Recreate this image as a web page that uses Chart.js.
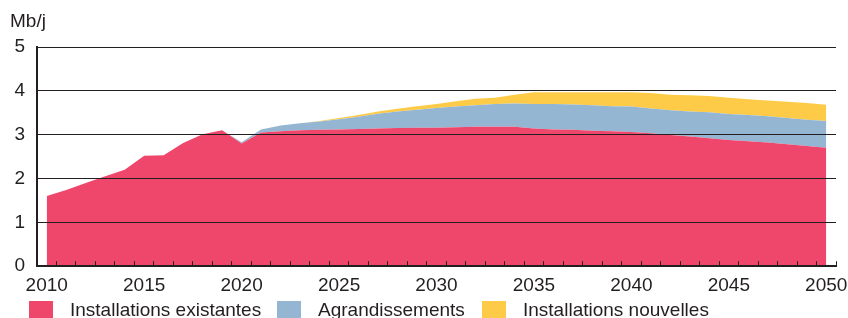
<!DOCTYPE html>
<html>
<head>
<meta charset="utf-8">
<script src="https://cdn.jsdelivr.net/npm/chart.js@4.4.1/dist/chart.umd.min.js"></script>
<style>
  html, body { margin: 0; padding: 0; background: #fff; }
  #wrap { position: relative; width: 848px; height: 318px; }
</style>
</head>
<body>
<div id="wrap"><canvas id="c" width="848" height="318"></canvas></div>
<script>
const years = [];
for (let y = 2010; y <= 2050; y++) years.push(String(y));

const yTicks = [0, 1, 2, 3, 4, 5];
const unitLabel = 'Mb/j';

const seriesNames = ['Installations existantes', 'Agrandissements', 'Installations nouvelles'];
const seriesColors = ['#EE476B', '#94B6D2', '#FECB48'];

const existing = [1.60,1.74,1.90,2.05,2.20,2.52,2.53,2.81,3.01,3.10,
                  2.80,3.05,3.08,3.10,3.11,3.12,3.13,3.14,3.15,3.16,
                  3.16,3.17,3.18,3.18,3.18,3.14,3.12,3.11,3.09,3.08,
                  3.06,3.03,2.99,2.96,2.92,2.88,2.85,2.82,2.78,2.74,2.70];
const expansions = [0,0,0,0,0,0,0,0,0,0,
                    0.03,0.07,0.13,0.16,0.19,0.23,0.28,0.34,0.38,0.41,
                    0.45,0.47,0.49,0.52,0.53,0.56,0.58,0.58,0.58,0.57,
                    0.58,0.57,0.57,0.57,0.59,0.59,0.60,0.60,0.60,0.60,0.61];
const newInstall = [0,0,0,0,0,0,0,0,0,0,
                    0,0,0,0,0.01,0.03,0.04,0.05,0.06,0.08,
                    0.09,0.12,0.15,0.14,0.20,0.27,0.27,0.28,0.30,0.32,
                    0.33,0.35,0.35,0.37,0.37,0.37,0.36,0.36,0.37,0.38,0.37];

const FONT = "'Liberation Sans', Arial, Helvetica, sans-serif";
const TEXT = '#231f20';
const FS = 19;

const extras = {
  id: 'extras',
  afterDraw(chart) {
    const ctx = chart.ctx;
    ctx.save();
    ctx.font = FS + 'px ' + FONT;
    ctx.textBaseline = 'alphabetic';
    ctx.textAlign = 'left';
    ctx.fillStyle = TEXT;
    ctx.fillText(unitLabel, 10, 27);
    const starts = [29, 277, 482];
    chart.data.datasets.forEach((ds, i) => {
      const x = starts[i];
      ctx.fillStyle = ds.backgroundColor;
      ctx.fillRect(x, 301, 24, 17);
      ctx.fillStyle = TEXT;
      ctx.fillText(ds.label, x + 41, 316);
    });
    ctx.restore();
  }
};

const mk = (label, data, color, fill) => ({
  label, data,
  backgroundColor: color,
  borderColor: color,
  borderWidth: 0,
  pointRadius: 0,
  pointHoverRadius: 0,
  tension: 0,
  fill
});

new Chart(document.getElementById('c'), {
  type: 'line',
  data: {
    labels: years,
    datasets: [
      mk(seriesNames[0], existing, seriesColors[0], 'origin'),
      mk(seriesNames[1], expansions, seriesColors[1], '-1'),
      mk(seriesNames[2], newInstall, seriesColors[2], '-1')
    ]
  },
  options: {
    responsive: false,
    animation: false,
    devicePixelRatio: 1,
    layout: { padding: { left: 14, right: 12, top: 47, bottom: 8 } },
    plugins: {
      legend: { display: false },
      tooltip: { enabled: false },
      title: { display: false }
    },
    scales: {
      x: {
        offset: true,
        afterFit: (s) => { s.paddingLeft = 0; s.paddingRight = 0; },
        grid: {
          offset: true,
          z: 1,
          drawOnChartArea: false,
          drawTicks: true,
          tickLength: -5,
          color: '#231f20',
          lineWidth: 1
        },
        border: { display: true, color: '#231f20', width: 2, z: 2 },
        ticks: {
          autoSkip: false,
          maxRotation: 0,
          padding: 13,
          color: TEXT,
          font: { family: FONT, size: FS },
          callback: function(v, i) {
            const lab = this.getLabelForValue(v);
            return (Number(lab) % 5 === 0) ? lab : '';
          }
        }
      },
      y: {
        stacked: true,
        min: 0,
        max: 5,
        afterFit: (s) => { s.width = 23; s.paddingTop = 0; s.paddingBottom = 0; },
        afterBuildTicks: (s) => { s.ticks = yTicks.map(v => ({ value: v })); },
        grid: { color: '#231f20', lineWidth: 1, drawTicks: false, z: 1 },
        border: { display: true, color: '#231f20', width: 2, z: 2 },
        ticks: {
          padding: 12,
          color: TEXT,
          font: { family: FONT, size: FS }
        }
      }
    }
  },
  plugins: [extras]
});
</script>
</body>
</html>
